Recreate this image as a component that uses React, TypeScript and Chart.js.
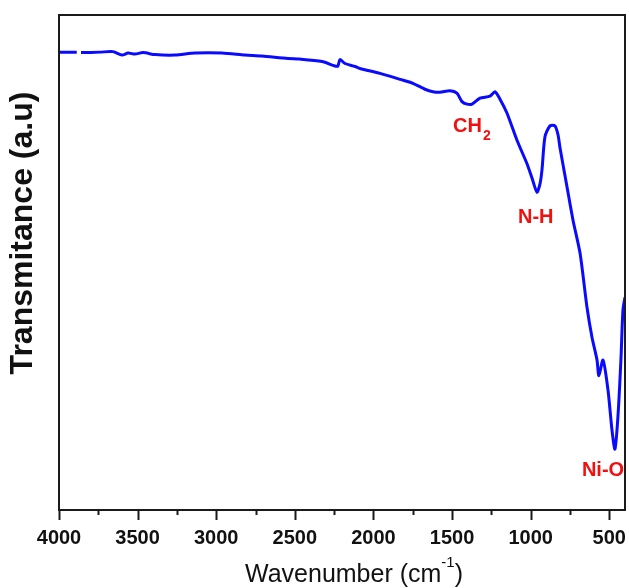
import React, { useEffect, useRef } from 'react';
import { Chart, registerables } from 'chart.js';

Chart.register(...registerables);

// FTIR spectrum
const wavenumbers: number[] = [
  4000, 3887, 3875, 3860, 3739, 3657, 3599, 3561, 3517, 3466, 3389, 3262, 3135, 2963, 2817,
  2709, 2544, 2467, 2327, 2245, 2226, 2213, 2181, 2117, 2086, 1958, 1831, 1749, 1672, 1621,
  1577, 1513, 1469, 1437, 1405, 1373, 1322, 1259, 1227, 1195, 1151, 1087, 1024, 992, 960,
  940, 928, 909, 877, 845, 826, 814, 769, 731, 686, 642, 610, 578, 566, 540, 508, 483, 464,
  445, 426, 413, 400,
];
const transmittance: (number | null)[] = [
  92.5, 92.5, null, 92.4, 92.5, 92.6, 91.9, 92.3, 92.1, 92.4, 92.0, 91.9, 92.3, 92.3, 91.9,
  91.7, 91.2, 91.1, 90.6, 89.7, 89.7, 91.0, 90.2, 89.6, 89.2, 88.2, 87.0, 86.2, 85.0, 84.5,
  84.4, 84.7, 84.2, 82.5, 82.0, 82.0, 83.2, 83.6, 84.5, 83.0, 80.2, 74.7, 70.0, 67.1, 64.2,
  66.0, 68.7, 75.4, 77.6, 77.6, 75.8, 73.3, 65.3, 58.6, 51.9, 41.0, 34.9, 30.3, 27.1, 30.3,
  24.2, 16.2, 12.3, 18.8, 30.3, 40.4, 43.0,
];

const majorTicks: number[] = [500, 1000, 1500, 2000, 2500, 3000, 3500, 4000];
const minorTicks: number[] = [750, 1250, 1750, 2250, 2750, 3250, 3750];

const annoText: string[] = ['CH', 'N-H', 'Ni-O'];
const annoSub: string[] = ['2', '', ''];
const annoX: number[] = [1494, 1081, 674];
const annoY: number[] = [76.4, 58.0, 6.9];

const FONT = '"Liberation Sans", Arial, Helvetica, sans-serif';

const decorPlugin = {
  id: 'decor',
  afterDatasetsDraw(chart: any) {
    const { ctx, chartArea } = chart;
    const xs = chart.scales.x;
    const ys = chart.scales.y;
    ctx.save();

    // annotations
    ctx.fillStyle = '#f01010';
    ctx.textBaseline = 'alphabetic';
    ctx.textAlign = 'left';
    for (let i = 0; i < annoText.length; i++) {
      const px = xs.getPixelForValue(annoX[i]);
      const py = ys.getPixelForValue(annoY[i]);
      ctx.font = `bold 20px ${FONT}`;
      ctx.fillText(annoText[i], px, py);
      if (annoSub[i]) {
        const w = ctx.measureText(annoText[i]).width;
        ctx.font = `bold 14px ${FONT}`;
        ctx.fillText(annoSub[i], px + w + 1, py + 8);
      }
    }

    // frame
    ctx.strokeStyle = '#1a1a1a';
    ctx.lineWidth = 2;
    ctx.strokeRect(chartArea.left, chartArea.top, chartArea.right - chartArea.left, chartArea.bottom - chartArea.top);

    // ticks
    ctx.beginPath();
    for (const v of majorTicks) {
      const px = Math.round(xs.getPixelForValue(v)) + 0.5;
      ctx.moveTo(px, chartArea.bottom);
      ctx.lineTo(px, chartArea.bottom + 10);
    }
    for (const v of minorTicks) {
      const px = Math.round(xs.getPixelForValue(v)) + 0.5;
      ctx.moveTo(px, chartArea.bottom);
      ctx.lineTo(px, chartArea.bottom + 5);
    }
    ctx.stroke();

    // y title
    ctx.fillStyle = '#111';
    ctx.save();
    ctx.translate(23, chartArea.top + 218);
    ctx.rotate(-Math.PI / 2);
    ctx.font = `bold 32px ${FONT}`;
    ctx.textAlign = 'center';
    ctx.textBaseline = 'middle';
    ctx.fillText('Transmitance (a.u)', 0, 0);
    ctx.restore();

    // x title with superscript
    const main = 'Wavenumber (cm';
    const sup = '-1';
    const close = ')';
    ctx.textAlign = 'left';
    ctx.textBaseline = 'alphabetic';
    ctx.font = `25px ${FONT}`;
    const wMain = ctx.measureText(main).width;
    const wClose = ctx.measureText(close).width;
    ctx.font = `15px ${FONT}`;
    const wSup = ctx.measureText(sup).width;
    const total = wMain + wSup + wClose;
    const cx = (chartArea.left + chartArea.right) / 2 + 12;
    let x0 = cx - total / 2;
    const base = chartArea.bottom + 72;
    ctx.font = `25px ${FONT}`;
    ctx.fillText(main, x0, base);
    x0 += wMain;
    ctx.font = `15px ${FONT}`;
    ctx.fillText(sup, x0, base - 15);
    x0 += wSup;
    ctx.font = `25px ${FONT}`;
    ctx.fillText(close, x0, base);

    ctx.restore();
  },
};

export default function App() {
  const ref = useRef<HTMLCanvasElement | null>(null);
  useEffect(() => {
    if (!ref.current) return;
    const points = wavenumbers.map((x, i) => ({ x, y: transmittance[i] }));
    const chart = new Chart(ref.current, {
      type: 'line',
      data: {
        datasets: [
          {
            data: points as any,
            borderColor: '#0a0aff',
            borderWidth: 3,
            pointRadius: 0,
            tension: 0.25,
            spanGaps: false,
            fill: false,
          },
        ],
      },
      options: {
        animation: false,
        responsive: false,
        maintainAspectRatio: false,
        layout: { padding: { top: 15, right: 4, left: 0, bottom: 0 } },
        plugins: { legend: { display: false }, tooltip: { enabled: false } },
        scales: {
          x: {
            type: 'linear',
            reverse: true,
            min: 400,
            max: 4000,
            grid: { display: false, drawTicks: false },
            border: { display: false },
            afterBuildTicks: (s: any) => {
              s.ticks = majorTicks.map((v) => ({ value: v }));
            },
            afterFit: (s: any) => {
              s.height = 78;
            },
            ticks: {
              font: { family: FONT, size: 20, weight: 'bold' },
              color: '#111',
              padding: 16,
              maxRotation: 0,
              autoSkip: false,
              callback: (v: any) => String(v),
            },
          },
          y: {
            type: 'linear',
            min: 0,
            max: 100,
            ticks: { display: false },
            grid: { display: false, drawTicks: false },
            border: { display: false },
            afterFit: (s: any) => {
              s.width = 59;
            },
          },
        },
      },
      plugins: [decorPlugin],
    });
    return () => chart.destroy();
  }, []);
  return (
    <div style={{ position: 'fixed', left: 0, top: 0, width: 629, height: 588, background: '#fff' }}>
      <canvas ref={ref} width={629} height={588} style={{ display: 'block' }} />
    </div>
  );
}
